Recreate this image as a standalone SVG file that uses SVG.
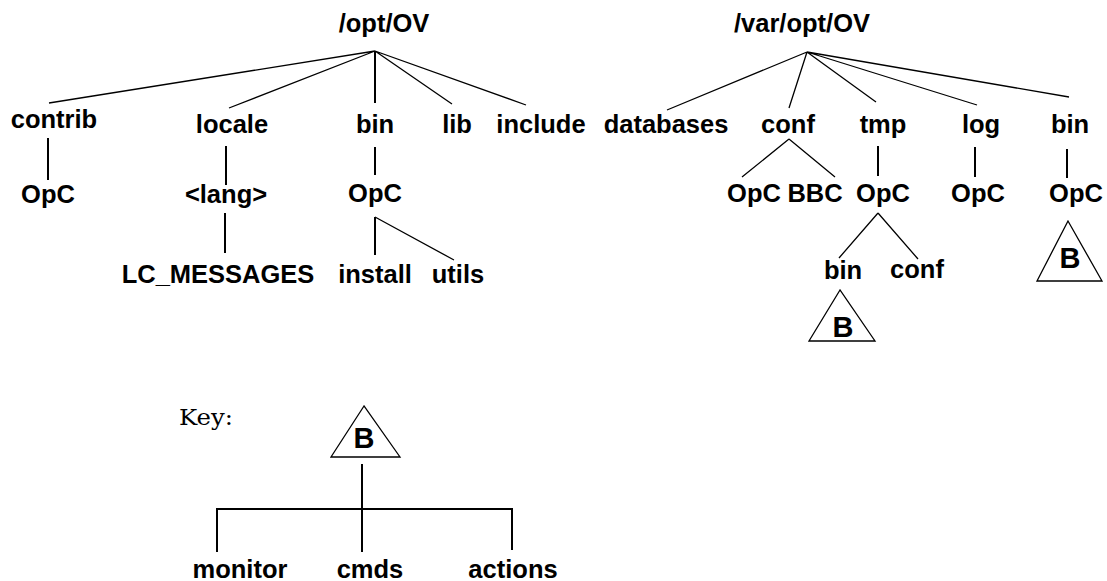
<svg xmlns="http://www.w3.org/2000/svg" width="1107" height="581" viewBox="0 0 1107 581">
<style>
.t{font-family:"Liberation Sans",Arial,sans-serif;font-weight:bold;font-size:25.5px;fill:#000;text-anchor:middle}
.b{font-family:"Liberation Sans",Arial,sans-serif;font-weight:bold;font-size:29px;fill:#000;text-anchor:middle}
.k{font-family:"DejaVu Serif","Liberation Serif",serif;font-size:22px;fill:#000}
.d{stroke:#000;stroke-width:1.3;fill:none}
.v{stroke:#000;stroke-width:2;fill:none}
.tri{stroke:#000;stroke-width:1.3;fill:#fff}
</style>
<rect width="1107" height="581" fill="#fff"/>
<g id="connectors">
<path class="d" d="M375,51 L49,103 M375,51 L229,108 M375,51 L452,104 M375,51 L526,105 M375,217 L454,260"/>
<path class="v" d="M375,51 V103 M48,138 V180 M226,146 V185 M225,213 V253 M375,147 V175 M375,217 V255"/>
<path class="d" d="M807,52 L667,110 M807,52 L789,108 M807,52 L876,102 M807,52 L977,105 M807,52 L1069,97 M789,139 L742,177 M789,139 L835,177 M878,213 L839,258 M878,213 L918,259"/>
<path class="v" d="M878,146 V176 M975,147 V177 M1067,149 V178"/>
<path class="v" d="M362,464 V552 M216,509 H513 M217,509 V552 M512,509 V550"/>
</g>
<g id="opt_root"><text class="t" x="384" y="32">/opt/OV</text></g>
<g id="contrib"><text class="t" x="54" y="128">contrib</text></g>
<g id="locale"><text class="t" x="232" y="133">locale</text></g>
<g id="opt_bin"><text class="t" x="375" y="133">bin</text></g>
<g id="lib"><text class="t" x="457" y="133">lib</text></g>
<g id="include"><text class="t" x="541" y="133">include</text></g>
<g id="contrib_opc"><text class="t" x="48" y="203">OpC</text></g>
<g id="lang"><text class="t" x="226" y="203">&lt;lang&gt;</text></g>
<g id="lc_messages"><text class="t" x="218" y="283">LC_MESSAGES</text></g>
<g id="opt_bin_opc"><text class="t" x="375" y="202">OpC</text></g>
<g id="install"><text class="t" x="375" y="283">install</text></g>
<g id="utils"><text class="t" x="458" y="283">utils</text></g>

<g id="var_root"><text class="t" x="802" y="32">/var/opt/OV</text></g>
<g id="databases"><text class="t" x="666" y="133">databases</text></g>
<g id="var_conf"><text class="t" x="788" y="133">conf</text></g>
<g id="tmp"><text class="t" x="883" y="133">tmp</text></g>
<g id="log"><text class="t" x="981" y="133">log</text></g>
<g id="var_bin"><text class="t" x="1070" y="133">bin</text></g>
<g id="conf_opc"><text class="t" x="754" y="202">OpC</text></g>
<g id="conf_bbc"><text class="t" x="815" y="202">BBC</text></g>
<g id="tmp_opc"><text class="t" x="883" y="202">OpC</text></g>
<g id="log_opc"><text class="t" x="978" y="202">OpC</text></g>
<g id="bin_opc"><text class="t" x="1076" y="202">OpC</text></g>
<g id="tmp_bin"><text class="t" x="843" y="279">bin</text></g>
<g id="tmp_conf"><text class="t" x="917" y="278">conf</text></g>
<g id="tmp_bin_B"><polygon class="tri" points="840,290 809,341 875,341"/><text class="b" x="843" y="337">B</text></g>
<g id="bin_opc_B"><polygon class="tri" points="1068,221 1037,281 1102,281"/><text class="b" x="1070" y="268">B</text></g>

<g id="key_label"><text class="k" x="179" y="425" textLength="54" lengthAdjust="spacingAndGlyphs">Key:</text></g>
<g id="key_B"><polygon class="tri" points="364,406 331,457 400,457"/><text class="b" x="364" y="448">B</text></g>
<g id="monitor"><text class="t" x="240" y="578">monitor</text></g>
<g id="cmds"><text class="t" x="370" y="578">cmds</text></g>
<g id="actions"><text class="t" x="513" y="578">actions</text></g>
</svg>
